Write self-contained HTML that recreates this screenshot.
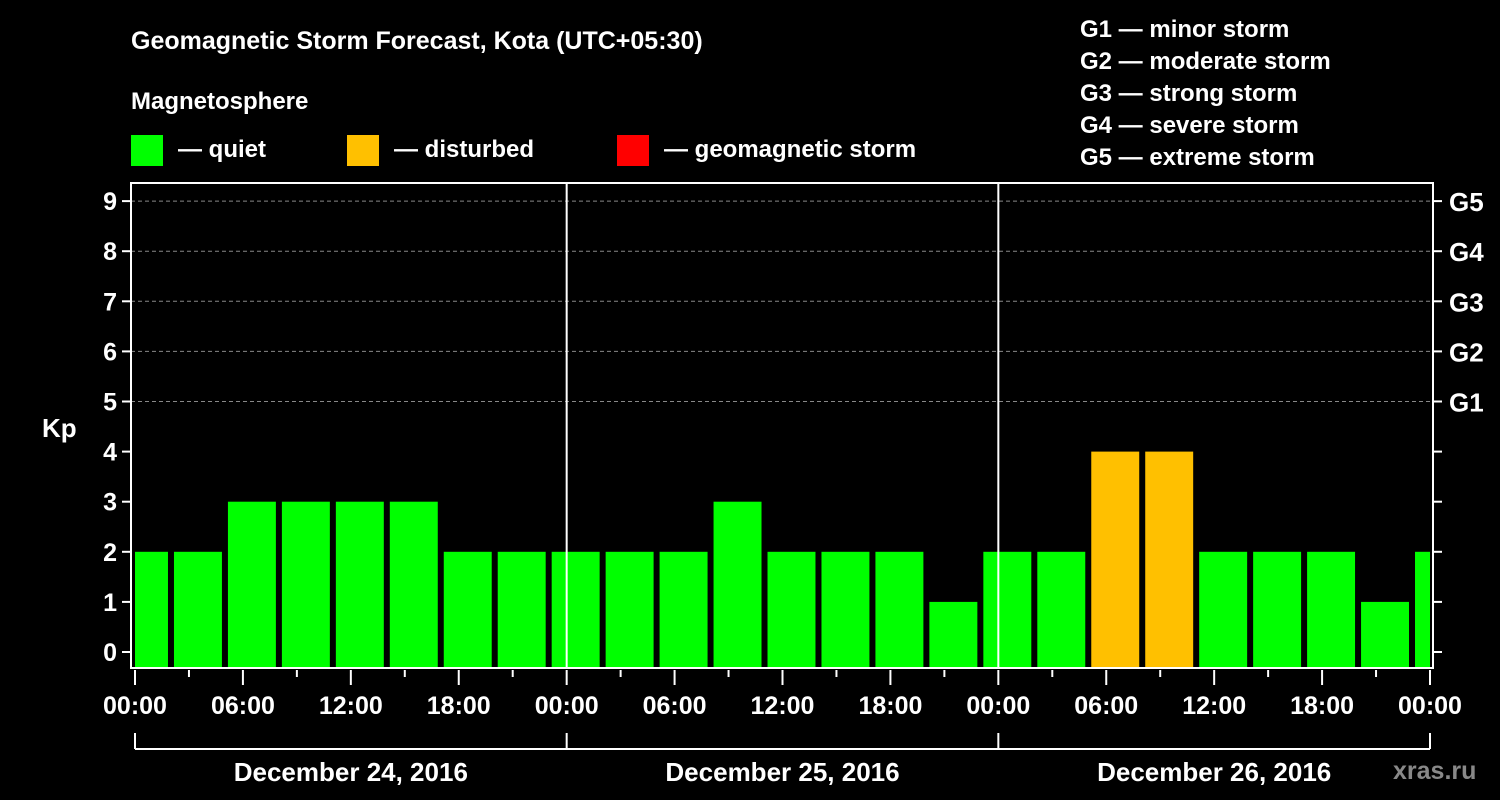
<!DOCTYPE html>
<html><head><meta charset="utf-8"><style>
html,body{margin:0;padding:0;background:#000;}
svg{display:block;font-family:"Liberation Sans",Arial,sans-serif;font-weight:bold;}
</style></head><body>
<svg id="chart" width="1500" height="800" viewBox="0 0 1500 800" xmlns="http://www.w3.org/2000/svg">
<rect width="1500" height="800" fill="#000"/>
<text x="131" y="49" fill="#fff" font-size="25">Geomagnetic Storm Forecast, Kota (UTC+05:30)</text>
<text x="131" y="109" fill="#fff" font-size="24">Magnetosphere</text>
<g><rect x="131" y="135" width="32" height="31" fill="#00ff00"/><text x="178" y="157" fill="#fff" font-size="24">— quiet</text></g>
<g><rect x="347" y="135" width="32" height="31" fill="#ffc000"/><text x="394" y="157" fill="#fff" font-size="24">— disturbed</text></g>
<g><rect x="617" y="135" width="32" height="31" fill="#ff0000"/><text x="664" y="157" fill="#fff" font-size="24">— geomagnetic storm</text></g>
<g fill="#fff" font-size="24">
<text x="1080" y="37">G1 — minor storm</text>
<text x="1080" y="69">G2 — moderate storm</text>
<text x="1080" y="101">G3 — strong storm</text>
<text x="1080" y="133">G4 — severe storm</text>
<text x="1080" y="165">G5 — extreme storm</text>
</g>
<text x="42" y="437" fill="#fff" font-size="26">Kp</text>
<text x="1393" y="779" fill="#888" font-size="25">xras.ru</text>
<g id="grid"></g>
<g id="bars"></g>
<g id="axes"></g>
</svg>
<script>
const kpValues = [2,2,3,3,3,3,2,2,2,2,2,3,2,2,2,1,2,2,4,4,2,2,2,1,2];
const yTicks = [0,1,2,3,4,5,6,7,8,9];
const gLabels = ["G1","G2","G3","G4","G5"];
const xTickLabels = ["00:00","06:00","12:00","18:00","00:00","06:00","12:00","18:00","00:00","06:00","12:00","18:00","00:00"];
const dayLabels = ["December 24, 2016","December 25, 2016","December 26, 2016"];

const NS="http://www.w3.org/2000/svg";
const X0=135, PXH=1295/72, FL=131, FR=1433, FT=183, FB=668;
const xs=h=>X0+h*PXH;
const ys=v=>652-v*50.1;
function mk(tag,attrs,parent){const e=document.createElementNS(NS,tag);for(const k in attrs)e.setAttribute(k,attrs[k]);parent.appendChild(e);return e;}
const grid=document.getElementById('grid'),bars=document.getElementById('bars'),axes=document.getElementById('axes');
// gridlines
yTicks.forEach(v=>{ if(v>=5){const l=mk('line',{x1:FL,x2:FR,y1:ys(v),y2:ys(v),stroke:'#888','stroke-dasharray':'4,3','stroke-width':1},grid);

}});
// bars: 3h intervals offset by -2h (UTC+05:30 aligned)
kpValues.forEach((v,i)=>{
  const start=-1+i*3, x1=Math.max(xs(start)+3,X0), x2=Math.min(xs(start+3)-3,FR-3);
  const col=v>=5?'#ff0000':(v>=4?'#ffc000':'#00ff00');
  const r=mk('rect',{x:x1,y:ys(v),width:x2-x1,height:FB-ys(v),fill:col},bars);
  
  
});
// day separators
[24,48].forEach(h=>{const l=mk('line',{x1:xs(h),x2:xs(h),y1:FT,y2:FB,stroke:'#fff','stroke-width':2},axes);

});
// frame
const f=mk('rect',{x:FL,y:FT,width:FR-FL,height:FB-FT,fill:'none',stroke:'#fff','stroke-width':2},axes);


// y ticks
yTicks.forEach(v=>{
  mk('line',{x1:FL-9,x2:FL,y1:ys(v),y2:ys(v),stroke:'#fff','stroke-width':2},axes);
  mk('line',{x1:FR,x2:FR+9,y1:ys(v),y2:ys(v),stroke:'#fff','stroke-width':2},axes);
  const t=mk('text',{x:FL-14,y:ys(v)+9,fill:'#fff','font-size':25,'text-anchor':'end'},axes);t.textContent=v;
  
  
  if(v>=5){const g=mk('text',{x:FR+16,y:ys(v)+10,fill:'#fff','font-size':26},axes);g.textContent=gLabels[v-5];
  
  }
});
// x ticks
for(let h=0;h<=72;h+=3){const major=h%6===0;mk('line',{x1:xs(h),x2:xs(h),y1:FB+2,y2:FB+(major?17:9),stroke:'#fff','stroke-width':2},axes);}
xTickLabels.forEach((s,i)=>{const t=mk('text',{x:xs(i*6),y:714,fill:'#fff','font-size':25,'text-anchor':'middle'},axes);t.textContent=s;

});
// day bracket
mk('line',{x1:X0,x2:xs(72),y1:749,y2:749,stroke:'#fff','stroke-width':2},axes);
[0,24,48,72].forEach(h=>mk('line',{x1:xs(h),x2:xs(h),y1:733,y2:749,stroke:'#fff','stroke-width':2},axes));
dayLabels.forEach((s,i)=>{const t=mk('text',{x:xs(i*24+12),y:781,fill:'#fff','font-size':26,'text-anchor':'middle'},axes);t.textContent=s;

});
</script>
</body></html>
